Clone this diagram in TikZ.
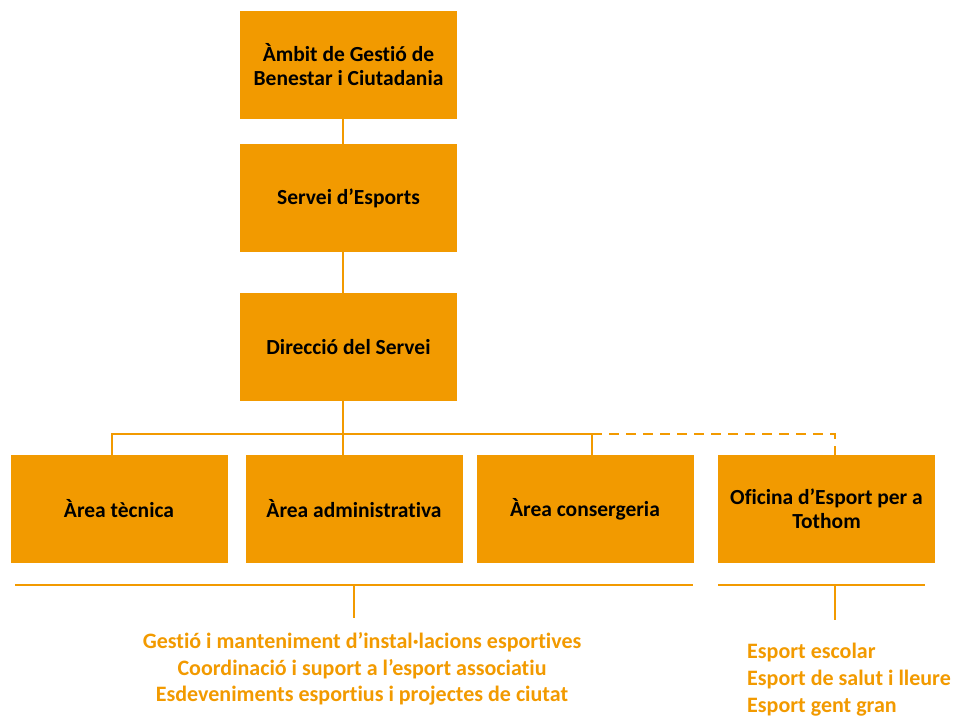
\documentclass[tikz,border=0pt]{standalone}
\usepackage{fontspec}
\setmainfont{Carlito}[Ligatures=NoCommon]
\usetikzlibrary{positioning}
\definecolor{taronja}{RGB}{242,154,0}

\begin{document}
\begin{tikzpicture}[x=1pt,y=-1pt,
  caixa/.style={fill=taronja,minimum width=217pt,minimum height=108pt,inner sep=0pt,align=center,font=\fontsize{21.5}{24}\selectfont\bfseries},
  linia/.style={draw=taronja,line width=2.6pt},
  tasca/.style={text=taronja,inner sep=0pt,font=\fontsize{22}{26.8}\selectfont\bfseries}]
\useasboundingbox (0,0) rectangle (957,717);
%================================================================
%	Boxes
\node[caixa] (ambit) at (348.5,65) {Àmbit de Gestió de\\Benestar i Ciutadania};
\node[caixa] (servei) at (348.5,198) {Servei d’Esports};
\node[caixa] (direccio) at (348.5,347) {Direcció del Servei};
%----------------------------------------------------------------
\node[caixa] (tecnica) at (119,509) {Àrea tècnica};
\node[caixa] (admin) at (354,509) {Àrea administrativa};
\node[caixa] (conserg) at (585,509) {Àrea consergeria};
\node[caixa] (oficina) at (826.5,509) {Oficina d’Esport per a\\Tothom};
%================================================================
%	Connectors
\coordinate (eix) at (343,0);
\coordinate (bt) at (112,434);
\coordinate (bc) at (592,434);
\coordinate (bo) at (835,434);
\draw[linia] (ambit.south -| eix) -- (servei.north -| eix);
\draw[linia] (servei.south -| eix) -- (direccio.north -| eix);
\draw[linia] (direccio.south -| eix) -- (admin.north -| eix);
\draw[linia] (tecnica.north -| bt) -- (bt) -- (bc) -- (conserg.north -| bc);
\draw[linia,dash pattern=on 10pt off 7pt] (bc) -- (bo) -- (oficina.north -| bo);
%================================================================
%	Tasks
\node[tasca,align=center] (tasques) at (362,669) {Gestió i manteniment d’instal·lacions esportives\\Coordinació i suport a l’esport associatiu\\Esdeveniments esportius i projectes de ciutat};
\node[tasca,align=left,anchor=north west] (programes) at (747,643) {Esport escolar\\Esport de salut i lleure\\Esport gent gran};
%----------------------------------------------------------------
\coordinate (gl) at (15,585);
\coordinate (gr) at (693,585);
\coordinate (gm) at (354,585);
\coordinate (ol) at (718,585);
\coordinate (or) at (925,585);
\coordinate (om) at (835,585);
\draw[linia] (gl) -- (gr);
\draw[linia] (gm) -- ++(0,33);
\draw[linia] (ol) -- (or);
\draw[linia] (om) -- ++(0,35);
%================================================================
\end{tikzpicture}
\end{document}
